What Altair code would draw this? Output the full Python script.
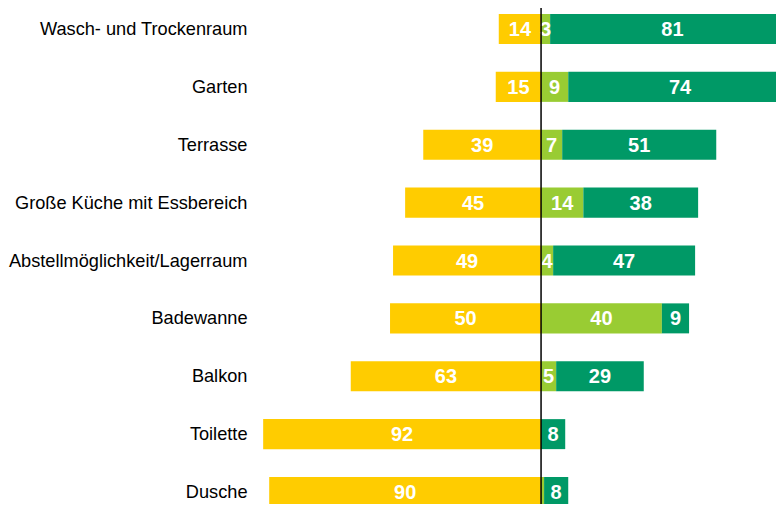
import altair as alt
import pandas as pd

categories = [
    "Wasch- und Trockenraum",
    "Garten",
    "Terrasse",
    "Große Küche mit Essbereich",
    "Abstellmöglichkeit/Lagerraum",
    "Badewanne",
    "Balkon",
    "Toilette",
    "Dusche",
]
yellow = [14, 15, 39, 45, 49, 50, 63, 92, 90]
light_green = [3, 9, 7, 14, 4, 40, 5, 0, 1]
dark_green = [81, 74, 51, 38, 47, 9, 29, 8, 8]

series_names = ["Gelb", "Hellgrün", "Dunkelgrün"]
series_colors = ["#FFCC00", "#99CC33", "#009966"]

rows = []
for i, c in enumerate(categories):
    y, l, d = yellow[i], light_green[i], dark_green[i]
    rows.append(dict(cat=c, series="Gelb", start=-y, end=0, val=y))
    if l > 0:
        rows.append(dict(cat=c, series="Hellgrün", start=0, end=l, val=l))
    rows.append(dict(cat=c, series="Dunkelgrün", start=l, end=l + d, val=d))
df = pd.DataFrame(rows)
df["mid"] = (df["start"] + df["end"]) / 2
df["label"] = df["val"].map(lambda v: str(v) if v >= 3 else "")

xs = alt.Scale(domain=[-94.04, 77.78], nice=False, zero=False)
ys = alt.Scale(range=[6, 499], paddingInner=0.4816, paddingOuter=0)

yax = alt.Axis(
    title=None, domain=False, ticks=False, labelFontSize=18.2,
    labelColor="black", labelPadding=10, labelFont="Liberation Sans",
    labelLimit=400, labelOffset=1,
)

base = alt.Chart(df)
bars = base.mark_bar(clip=True).encode(
    x=alt.X("start:Q", scale=xs, axis=None),
    x2="end:Q",
    y=alt.Y("cat:N", sort=categories, scale=ys, axis=yax),
    color=alt.Color("series:N", scale=alt.Scale(domain=series_names, range=series_colors), legend=None),
)
texts = base.mark_text(
    color="white", fontWeight="bold", fontSize=20, font="Liberation Sans",
    baseline="middle", dy=1,
).encode(
    x=alt.X("mid:Q", scale=xs, axis=None),
    y=alt.Y("cat:N", sort=categories, scale=ys, axis=yax),
    text="label:N",
)
rule = alt.Chart(pd.DataFrame({"x": [0]})).mark_rule(color="black", strokeWidth=1.5).encode(
    x=alt.X("x:Q", scale=xs, axis=None),
    y=alt.value(0),
    y2=alt.value(496),
)

chart = alt.layer(bars, texts, rule).properties(
    width=519,
    height=496,
    autosize=alt.AutoSizeParams(type="none"),
    padding={"left": 249, "top": 0, "right": 0, "bottom": 0},
).configure_view(stroke=None)

chart.save("out.html", embed_options={"renderer": "svg", "actions": False})
